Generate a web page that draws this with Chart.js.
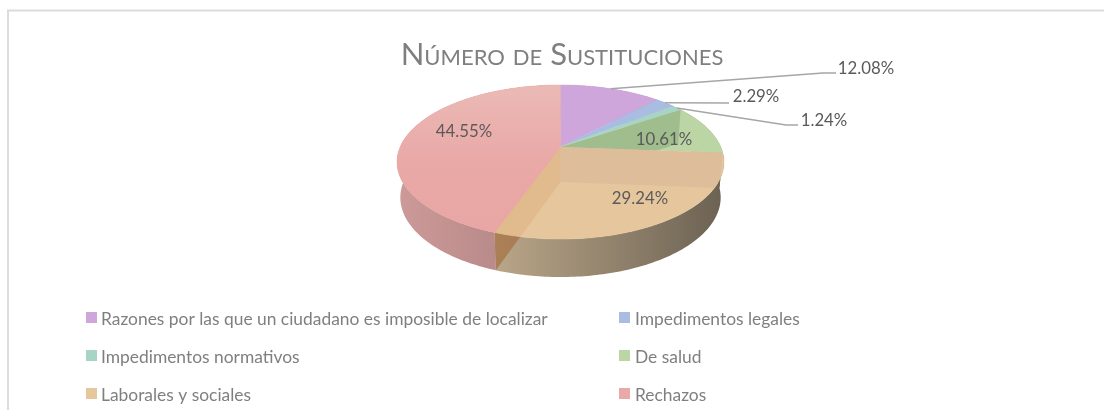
<!DOCTYPE html>
<html><head><meta charset="utf-8">
<style>html,body{margin:0;padding:0;background:#fff;overflow:hidden}canvas{display:block;filter:blur(.4px)}</style>
<script src="https://cdn.jsdelivr.net/npm/chart.js@4"></script>
</head><body>
<canvas id="c" width="1104" height="410"></canvas>
<script>
const categories = ["Razones por las que un ciudadano es imposible de localizar","Impedimentos legales","Impedimentos normativos","De salud","Laborales y sociales","Rechazos"];
const values = [12.08,2.29,1.24,10.61,29.24,44.55];
const sliceColors = ["#cfa6dc","#a9bde3","#a8d4c8","#bcd5a4","#e6c69d","#e8a9a7"];
const sideLeft = ["#b89ac4","#98a8c8","#98bcb0","#a0b890","#baa688","#cc9a98"];
const sideRight = ["#8f7a98","#7a88a0","#7a9a90","#7a8c6c","#6c6253","#b98a8a"];
const title = "Número de Sustituciones";

const K = 0.195, CX = 560.5, R = 160.3;
const top3 = a => { const u=Math.sin(a), v=-Math.cos(a), w=1-K*v; return [CX+R*u/w, 147+74.07*v/w]; };
const bot3 = a => { const u=Math.sin(a), v=-Math.cos(a), w=1-K*v; return [CX+0.98*R*u/w, 182+76.5*v/w]; };
const trace = (ctx,f,a,b,first) => { const n=Math.max(2,Math.ceil(Math.abs(b-a)*60));
  for(let i=0;i<=n;i++){const p=f(a+(b-a)*i/n); (first&&i===0)?ctx.moveTo(p[0],p[1]):ctx.lineTo(p[0],p[1]);} };
const facePath = (ctx,a,b) => { ctx.beginPath(); ctx.moveTo(CX,147); trace(ctx,top3,a,b,false); ctx.closePath(); };
const wallPath = (ctx,a) => { const t=top3(a), o=bot3(a); ctx.beginPath(); ctx.moveTo(CX,147); ctx.lineTo(t[0],t[1]); ctx.lineTo(o[0],o[1]); ctx.lineTo(CX,182); ctx.closePath(); };

const pie3d = {
  id:'pie3d',
  beforeDatasetsDraw(chart){
    const ctx = chart.ctx, arcs = chart.getDatasetMeta(0).data;
    const ang = arcs.map(el => [el.startAngle+Math.PI/2, el.endAngle+Math.PI/2]);
    ctx.save();
    // frame
    ctx.strokeStyle='#dcdcdc'; ctx.lineWidth=2;
    ctx.beginPath(); ctx.moveTo(8,410); ctx.lineTo(8,10.5); ctx.lineTo(1104,10.5); ctx.stroke();
    // outer side walls
    ang.forEach((r,i)=>{
      const g=ctx.createLinearGradient(i===5?397:495,0,i===5?500:722,0);
      g.addColorStop(0,sideLeft[i]); g.addColorStop(1,sideRight[i]);
      ctx.fillStyle=g; ctx.beginPath();
      trace(ctx,top3,r[0],r[1],true); trace(ctx,bot3,r[1],r[0],false); ctx.closePath(); ctx.fill();
    });
    // cut wall between Laborales and Rechazos seen through the surface
    wallPath(ctx,ang[5][0]); ctx.fillStyle='rgba(165,115,70,.75)'; ctx.fill();
    // top faces
    ang.forEach((r,i)=>{
      facePath(ctx,r[0],r[1]); ctx.fillStyle=sliceColors[i]; ctx.fill();
      ctx.strokeStyle=sliceColors[i]; ctx.lineWidth=.5; ctx.stroke();
    });
    const pinkG=ctx.createLinearGradient(0,85,0,235);
    pinkG.addColorStop(0,'#ebbab6'); pinkG.addColorStop(.5,'#e9a9a7'); pinkG.addColorStop(1,'#e8a5a3');
    facePath(ctx,ang[5][0],ang[5][1]); ctx.fillStyle=pinkG; ctx.fill();
    // inner walls
    ctx.save(); facePath(ctx,ang[4][0],ang[4][1]); ctx.clip();
    wallPath(ctx,ang[4][0]); ctx.fillStyle='rgba(210,175,150,.4)'; ctx.fill();
    wallPath(ctx,ang[4][1]); ctx.fillStyle='rgba(220,175,125,.5)'; ctx.fill();
    ctx.restore();
    ctx.save(); facePath(ctx,ang[3][0],ang[3][1]); ctx.clip();
    wallPath(ctx,ang[3][0]); ctx.fillStyle='rgba(115,150,105,.38)'; ctx.fill();
    ctx.restore();
    // leader lines
    ctx.strokeStyle='#a6a6a6'; ctx.lineWidth=1.5;
    const elbows=[[823,73,836,73],[729,103,729,103],[786,125,798,125]];
    elbows.forEach((e,i)=>{
      const m=top3((ang[i][0]+ang[i][1])/2);
      ctx.beginPath(); ctx.moveTo(m[0],m[1]); ctx.lineTo(e[0],e[1]); ctx.lineTo(e[2],e[3]); ctx.stroke();
    });
    // data labels
    const labelPos=[[866,69],[756,97],[824,121],[664,140],[640,199],[464,132]];
    ctx.font='16.8px Lato'; ctx.fillStyle='#5a5a5a'; ctx.textAlign='center'; ctx.textBaseline='middle';
    values.forEach((v,i)=>ctx.fillText(v.toFixed(2)+'%',labelPos[i][0],labelPos[i][1]));
    // legend
    ctx.font='17.4px Lato'; ctx.textAlign='left'; 
    categories.forEach((c,i)=>{
      const x=i%2?619:86, y=[318,356,394][Math.floor(i/2)];
      ctx.fillStyle=sliceColors[i]; ctx.fillRect(x,y-6,11,11);
      ctx.fillStyle='#7f7f7f'; ctx.fillText(c,x+(i%2?16:15),y+1);
    });
    ctx.restore();
    return false;
  }
};

new Chart(document.getElementById('c'),{
  type:'pie',
  data:{labels:categories,datasets:[{data:values,backgroundColor:sliceColors,borderWidth:0}]},
  options:{
    responsive:false,animation:false,
    layout:{padding:{left:20,top:36}},
    plugins:{
      legend:{display:false},tooltip:{enabled:false},
      title:{display:true,text:title,color:'#7f7f7f',padding:0,
        font:{family:'Lato',size:31,weight:'small-caps normal'}}
    }
  },
  plugins:[pie3d]
});
</script>
</body></html>
